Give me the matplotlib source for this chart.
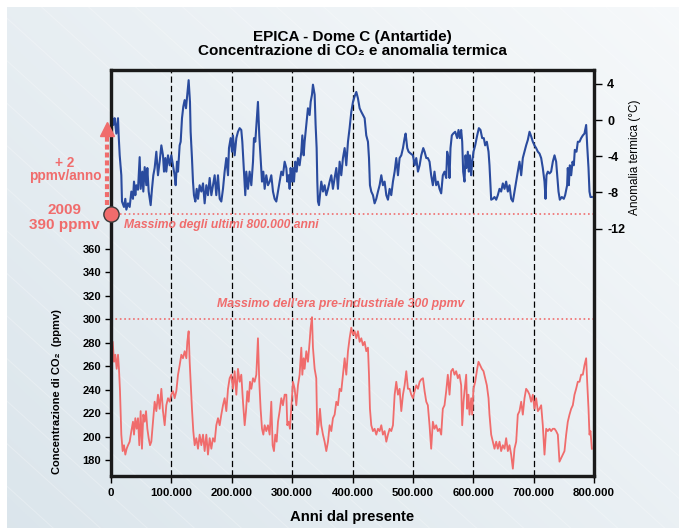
import numpy as np
import matplotlib.pyplot as plt

plt.rcParams['font.family'] = ['Liberation Sans', 'DejaVu Sans']

# dati, eta' in migliaia di anni dal presente
anni_temp = [
    1.7, 3.9, 6.1, 8.8, 11.6, 12.7, 14.4, 17.1, 18.2, 21.5,
    23.7, 25.4, 28.2, 30.9, 33.7, 36.4, 38.1, 40.3, 42.0, 44.7,
    47.5, 49.1, 51.9, 53.5, 55.8, 58.5, 60.2, 62.4, 65.7, 67.9,
    70.1, 72.3, 75.1, 77.8, 80.6, 83.4, 86.1, 87.8, 90.0, 91.6,
    94.4, 97.2, 99.9, 102.7, 105.4, 107.1, 109.3, 111.0, 113.7, 115.4,
    117.6, 119.8, 122.0, 124.2, 126.4, 128.6, 130.8, 131.9, 134.1, 135.8,
    137.4, 139.7, 141.9, 144.1, 146.8, 149.6, 152.4, 155.1, 157.9, 160.6,
    163.4, 166.2, 168.9, 171.7, 174.4, 177.2, 180.0, 182.7, 185.5, 188.2,
    191.0, 193.8, 195.4, 198.2, 200.4, 202.0, 204.8, 207.6, 210.3, 213.1,
    215.8, 217.5, 220.2, 222.4, 224.1, 226.9, 229.6, 232.4, 235.2, 236.8,
    239.0, 241.2, 243.4, 245.6, 247.8, 250.1, 252.3, 254.5, 257.2, 260.0,
    262.8, 265.5, 268.3, 271.0, 273.8, 276.6, 279.3, 282.1, 284.8, 287.6,
    290.4, 292.0, 294.2, 295.9, 297.5, 299.7, 301.4, 303.1, 305.3, 307.5,
    309.7, 312.4, 315.2, 316.9, 319.1, 320.7, 323.5, 326.2, 329.0, 330.7,
    332.9, 334.5, 337.3, 338.9, 340.6, 341.7, 342.8, 344.5, 346.1, 348.3,
    351.1, 353.8, 356.6, 359.4, 362.1, 364.9, 367.6, 370.4, 373.2, 375.9,
    378.7, 381.4, 384.2, 387.0, 389.7, 392.5, 395.2, 398.0, 400.8, 403.5,
    406.3, 409.0, 411.8, 414.6, 417.3, 420.1, 422.8, 425.6, 427.3, 428.9,
    431.1, 433.9, 436.6, 439.4, 442.2, 444.9, 447.7, 450.4, 453.2, 456.0,
    458.7, 461.5, 464.2, 467.0, 469.8, 472.5, 475.3, 478.0, 480.8, 483.6,
    486.3, 488.0, 490.7, 492.9, 496.3, 500.1, 502.9, 505.6, 508.4, 511.2,
    513.9, 517.2, 519.4, 522.2, 524.8, 527.6, 530.3, 533.1, 535.8, 538.6,
    541.4, 544.1, 546.9, 549.6, 552.4, 555.2, 556.8, 559.0, 560.7, 562.3,
    564.5, 566.8, 570.1, 573.4, 575.6, 577.8, 580.0, 581.7, 583.3, 585.5,
    587.2, 588.8, 591.0, 592.7, 594.4, 596.6, 598.2, 600.4, 603.2, 606.5,
    609.3, 612.0, 614.8, 617.5, 619.7, 622.5, 625.3, 626.9, 628.6, 629.7,
    632.4, 635.2, 638.0, 640.7, 643.5, 646.2, 649.0, 651.8, 654.5, 657.3,
    660.0, 662.8, 665.6, 668.3, 671.1, 673.8, 676.6, 679.4, 682.1, 684.9,
    687.6, 690.4, 693.2, 695.9, 698.7, 701.4, 704.2, 707.0, 709.7, 712.5,
    715.2, 718.0, 719.7, 721.3, 723.5, 726.3, 729.0, 731.8, 734.6, 737.3,
    739.0, 741.2, 743.4, 746.7, 750.0, 752.2, 755.5, 756.6, 758.3, 760.0,
    762.2, 764.4, 766.6, 768.2, 771.0, 773.2, 776.0, 778.7, 781.5, 784.2,
    787.0, 788.7, 790.9, 792.5, 794.2, 796.4,
]
temp = [
    0.4, -0.55, 0.2, -1.5, 0.2, -1.7, -3.9, -6.1, -9.0, -9.6,
    -8.7, -9.9, -9.2, -9.6, -7.9, -8.7, -6.8, -8.3, -7.2, -7.7,
    -4.1, -7.6, -5.7, -7.9, -5.2, -7.2, -5.3, -7.9, -9.4, -7.6,
    -6.1, -5.3, -3.5, -6.1, -4.6, -2.8, -3.9, -5.7, -4.2, -5.7,
    -3.9, -5.0, -3.9, -5.0, -6.1, -7.2, -4.6, -5.7, -2.8, -2.4,
    0.2, 1.5, 2.2, 1.3, 2.8, 4.4, 2.0, -1.3, -4.2, -6.8,
    -8.3, -9.0, -7.6, -8.7, -7.2, -7.9, -7.0, -9.2, -7.2, -8.3,
    -6.4, -8.3, -7.2, -6.1, -8.3, -6.1, -8.7, -9.0, -7.6, -5.7,
    -4.2, -6.1, -3.1, -2.0, -3.5, -1.7, -3.9, -2.0, -1.3, -0.9,
    -1.1, -2.4, -5.7, -8.3, -5.7, -7.6, -5.7, -7.2, -4.6, -2.0,
    -2.4, -0.2, 2.0, -1.7, -4.2, -6.8, -5.7, -7.6, -6.1, -7.2,
    -6.8, -6.1, -7.9, -8.7, -9.0, -7.9, -6.8, -5.7, -6.1, -4.6,
    -5.3, -6.8, -6.1, -7.6, -5.3, -6.8, -5.3, -6.8, -4.6, -5.7,
    -4.2, -5.0, -3.5, -1.7, -3.9, -2.4, -0.55, 1.3, 0.55, 2.0,
    2.8, 3.9, 2.8, -0.55, -3.1, -6.8, -9.0, -9.4, -8.3, -6.8,
    -7.9, -7.2, -8.3, -7.6, -6.8, -6.1, -7.6, -6.4, -5.3, -7.6,
    -4.6, -6.1, -4.2, -3.1, -5.0, -2.4, -0.9, 0.9, 2.0, 2.6,
    3.1, 2.4, 1.3, 0.9, 0.55, 0.2, -1.7, -2.4, -4.2, -7.2,
    -7.9, -8.3, -9.2, -8.7, -7.9, -7.2, -6.1, -7.2, -6.8, -8.3,
    -8.8, -7.6, -8.3, -6.8, -5.7, -4.2, -6.1, -4.2, -3.9, -3.1,
    -2.0, -1.5, -3.1, -3.5, -3.7, -3.9, -5.0, -4.2, -5.7, -5.0,
    -3.9, -3.1, -3.5, -4.2, -4.2, -4.6, -6.1, -7.2, -5.7, -7.2,
    -6.8, -7.6, -8.1, -6.1, -5.7, -6.4, -3.5, -4.2, -6.4, -3.1,
    -1.7, -1.5, -1.3, -2.0, -1.1, -2.0, -1.1, -2.4, -5.7, -6.8,
    -3.9, -5.3, -3.5, -5.7, -3.9, -6.1, -4.6, -3.5, -2.8, -1.7,
    -0.9, -1.1, -2.0, -2.0, -2.8, -2.4, -3.5, -5.0, -7.2, -8.8,
    -8.7, -8.5, -8.8, -8.3, -7.6, -7.9, -7.0, -7.6, -6.8, -7.9,
    -7.2, -8.7, -9.0, -7.9, -6.8, -5.7, -4.6, -6.1, -4.2, -3.5,
    -2.8, -2.2, -1.3, -1.8, -2.4, -2.8, -3.1, -3.5, -3.7, -4.2,
    -5.3, -6.8, -8.7, -6.1, -5.7, -5.9, -5.7, -4.6, -3.9, -4.6,
    -6.1, -7.9, -8.8, -8.5, -8.7, -8.3, -7.2, -5.3, -7.2, -5.0,
    -6.1, -4.6, -5.0, -3.3, -3.5, -2.4, -2.4, -2.0, -1.7, -1.5,
    -0.55, -2.8, -5.3, -7.9, -8.5, -8.5,
]

anni_co2 = [
    0.0, 1.0,
    2.8, 5.0, 7.2, 9.4, 11.6, 13.2, 14.9, 17.1, 19.3, 21.5,
    23.7, 25.9, 28.2, 30.9, 33.7, 36.4, 38.1, 40.3, 42.5, 44.7,
    46.9, 49.1, 51.3, 53.5, 55.8, 58.0, 60.2, 62.4, 64.6, 66.8,
    69.6, 72.3, 75.1, 77.8, 80.6, 83.4, 86.1, 88.9, 91.6, 94.4,
    97.2, 99.9, 102.7, 105.4, 108.2, 111.0, 113.7, 116.5, 119.2, 122.0,
    124.8, 126.4, 128.6, 130.3, 131.9, 134.1, 136.3, 138.6, 141.3, 144.1,
    146.8, 149.6, 152.4, 155.1, 157.9, 160.6, 163.4, 166.2, 168.9, 171.7,
    174.4, 177.2, 180.0, 182.7, 185.5, 188.2, 191.0, 193.8, 196.5, 199.3,
    202.0, 204.8, 207.6, 210.3, 213.1, 215.8, 218.6, 221.4, 223.6, 225.8,
    228.0, 230.2, 232.4, 235.2, 237.9, 240.7, 243.4, 245.6, 247.8, 250.1,
    252.3, 254.5, 257.2,
    260.0, 262.8, 265.5, 267.7, 269.9, 272.1, 274.4, 276.6, 279.3, 282.1,
    284.8, 287.6, 290.4, 292.0, 294.2, 296.4, 298.6, 301.4, 304.2, 306.9,
    309.7, 312.4, 315.2, 316.9, 319.1, 320.7, 323.5, 326.2, 329.0, 330.7,
    332.9, 334.5, 337.3, 340.0, 341.7, 343.9, 346.1, 348.3, 351.1, 353.8,
    356.6, 359.4, 362.1, 364.9, 367.6, 370.4, 373.2, 375.9, 378.7, 381.4,
    384.2, 387.0, 389.7, 392.5, 395.2, 398.0, 400.8, 403.5, 406.3, 409.0,
    411.8, 414.6, 417.3, 420.1, 422.8, 425.6, 427.3, 428.9, 431.1, 433.9,
    436.6, 439.4, 442.2, 444.9, 447.7, 450.4, 453.2, 456.0, 458.7, 461.5,
    464.2, 467.0, 469.8, 472.5, 475.3, 478.0, 480.8, 483.6, 486.3, 489.1,
    491.8, 494.6, 497.4, 500.1, 502.9, 505.6, 508.4, 511.2, 513.9, 516.7,
    519.4, 522.2,
    524.8, 527.6, 530.3, 533.1, 535.8, 538.6, 541.4, 544.1, 546.9, 549.6,
    552.4, 555.2, 557.9, 560.7, 563.4, 566.2, 569.0, 571.7, 574.5, 577.2,
    580.0, 581.7, 583.9, 585.5, 588.3, 589.9, 592.1, 593.8, 596.6, 598.2,
    600.4, 603.2, 606.5, 608.7, 611.5, 614.2, 617.0, 619.7, 622.5, 625.3,
    626.9, 629.7, 632.4, 635.2, 638.0, 640.7, 643.5, 646.2, 649.0, 651.8,
    654.5, 657.3, 660.0, 662.8, 665.6, 668.3, 671.1, 673.8, 676.6, 679.4,
    682.1, 684.9, 687.6, 690.4, 693.2, 695.9, 698.7, 701.4, 704.2, 707.0,
    709.7, 712.5, 715.2, 718.0, 720.8, 723.5, 726.3, 729.0, 731.8, 734.6,
    737.3, 740.1, 742.8, 745.6, 748.4, 751.1, 753.9, 756.6, 759.4, 762.2,
    764.9, 767.7, 770.4, 773.2, 776.0, 778.7, 781.5, 784.2, 787.0, 788.7,
    790.9, 792.5, 794.2, 796.4,
]
co2 = [
    390, 282,
    281, 264, 270, 258, 270, 258, 239, 202, 188, 193,
    185, 190, 193, 196, 205, 213, 202, 216, 207, 216,
    193, 222, 190, 219, 213, 222, 207, 199, 193, 196,
    213, 230, 222, 236, 224, 241, 222, 210, 227, 233,
    230, 236, 239, 233, 239, 253, 261, 270, 267, 273,
    267, 281, 290, 264, 247, 224, 205, 193, 199, 190,
    202, 193, 202, 188, 202, 185, 199, 190, 199, 196,
    210, 216, 210, 219, 227, 233, 222, 241, 250, 253,
    241, 256, 236, 258, 247, 253, 230, 210, 222, 239,
    230, 247, 241, 250, 247, 253, 284, 247, 224, 207,
    202, 210, 205,
    210, 202, 230, 193, 188, 202, 196, 213, 222, 233,
    227, 236, 236, 210, 213, 207, 224, 247, 241, 227,
    244, 253, 276, 253, 267, 258, 273, 264, 281, 293,
    302, 276, 258, 250, 202, 210, 224, 210, 202, 196,
    188, 196, 210, 205, 216, 219, 230, 227, 241, 239,
    253, 267, 253, 273, 284, 293, 287, 290, 284, 290,
    281, 284, 278, 281, 273, 276, 253, 224, 210, 205,
    207, 202, 207, 205, 210, 202, 205, 196, 202, 207,
    205, 210, 236, 247, 236, 241, 222, 236, 244, 256,
    241, 241, 236, 233, 239, 244, 241, 247, 249, 250,
    239, 230,
    227, 210, 190, 213, 207, 210, 205, 207, 202, 224,
    227, 239, 253, 236, 256, 258, 253, 256, 250, 253,
    244, 210, 230, 239, 253, 224, 236, 219, 233, 219,
    241, 247, 258, 264, 261, 258, 256, 250, 244, 233,
    219, 202, 196, 190, 196, 190, 196, 188, 193, 190,
    199, 188, 193, 185, 173, 190, 196, 219, 222, 230,
    219, 233, 241, 239, 236, 230, 236, 224, 233, 222,
    224, 227, 210, 185, 207, 205, 207, 205, 207, 207,
    205, 202, 179, 182, 185, 188, 202, 213, 219, 224,
    227, 236, 241, 247, 247, 253, 253, 261, 267, 247,
    224, 202, 205, 190,
]

anni_tick = [0, 100, 200, 300, 400, 500, 600, 700, 800]
anni_etichette = ['0', '100.000', '200.000', '300.000', '400.000',
                  '500.000', '600.000', '700.000', '800.000']
co2_tick = [180, 200, 220, 240, 260, 280, 300, 320, 340, 360]
temp_tick = [4, 0, -4, -8, -12]
temp_etichette = ['4', '0', '-4', '-8', '-12']

co2_2009 = 390
co2_preind = 300

rosso = '#f06c6c'
blu = '#2a4b9e'
W, H = 679, 528

fig = plt.figure(figsize=(W / 100, H / 100), dpi=100)

# sfondo sfumato
bg = fig.add_axes([7 / W, 0, 1 - 7 / W, 1 - 7 / H], zorder=-10)
gx, gy = np.meshgrid(np.linspace(0, 1, 300), np.linspace(0, 1, 300))
g = np.clip(0.55 * gx + 0.45 * gy, 0, 1)
c_bl = np.array([0.86, 0.9, 0.925])
c_tr = np.array([0.965, 0.975, 0.982])
img = c_bl + (c_tr - c_bl) * g[..., None]
bg.imshow(img, origin='lower', extent=[0, 1, 0, 1], aspect='auto')
for k in np.arange(-0.5, 1.6, 0.07):
    bg.plot([k - 0.6, k + 0.6], [1.2, -0.2], color='white', lw=0.8, alpha=0.25)
bg.set_xlim(0, 1)
bg.set_ylim(0, 1)
bg.axis('off')

ax = fig.add_axes([111 / W, 52 / H, 483 / W, 406 / H])
ax.set_facecolor('none')
ax2 = ax.twinx()

for v in anni_tick[1:-1]:
    ax.axvline(v, color='black', lw=0.9, ls=(0, (5, 2.5)), zorder=1)

ax.axhline(co2_2009, color=rosso, ls=':', lw=1.2, zorder=1.5)
ax.axhline(co2_preind, color=rosso, ls=':', lw=1.2, zorder=1.5)
ax.plot(anni_co2, co2, color=rosso, lw=1.3, zorder=2)
ax2.plot(anni_temp, temp, color=blu, lw=1.5, zorder=2)

# freccia e cerchio del 2009
ax2.plot([-6.2, -6.2], [397, 455], transform=ax.transData, color=rosso,
         lw=3, ls=(0, (1.2, 0.7)), clip_on=False, zorder=9)
ax2.plot([-6.2], [462], transform=ax.transData, marker='^', ms=10,
         color=rosso, clip_on=False, zorder=9)
ax2.plot([0], [co2_2009], transform=ax.transData, marker='o', ms=11,
         mfc=rosso, mec='#3a3a3a', mew=1, clip_on=False, zorder=10)

ax.set_xlim(0, 800)
ax.set_ylim(166.8, 512.3)
ax2.set_ylim(-39.3, 5.52)

for a in (ax, ax2):
    for s in a.spines.values():
        s.set_linewidth(2.3)
        s.set_color('#1a1a1a')

ax.set_xticks(anni_tick)
ax.set_xticklabels(anni_etichette, fontsize=8.2, fontweight='bold')
ax.set_yticks(co2_tick)
ax.set_yticklabels([str(v) for v in co2_tick], fontsize=8, fontweight='bold')
ax.tick_params(axis='x', direction='out', length=5, width=1, pad=4)
ax.tick_params(axis='y', direction='out', length=4, width=1, pad=3)
ax2.set_yticks(temp_tick)
ax2.set_yticklabels(temp_etichette, fontsize=9, fontweight='bold')
ax2.tick_params(axis='y', direction='out', length=5.5, width=1, pad=4)

ax.text(21.5, 380, 'Massimo degli ultimi 800.000 anni', color=rosso,
        fontsize=8.7, fontweight='bold', style='italic', ha='left', va='center')
ax.text(175, 313, "Massimo dell'era pre-industriale 300 ppmv", color=rosso,
        fontsize=8.8, fontweight='bold', style='italic', ha='left', va='center')

def ftext(x, y, s, **kw):
    fig.text(x / W, 1 - y / H, s, ha='center', va='center', **kw)

ftext(352.5, 37.5, 'EPICA - Dome C (Antartide)', fontsize=11, fontweight='bold')
ftext(352.5, 51, 'Concentrazione di CO₂ e anomalia termica', fontsize=11,
      fontweight='bold')
ftext(352.5, 517, 'Anni dal presente', fontsize=10.7, fontweight='bold')
ftext(57, 392, 'Concentrazione di CO₂  (ppmv)', fontsize=8,
      fontweight='bold', rotation=90)
ftext(635, 157, 'Anomalia termica (°C)', fontsize=8.5, rotation=90)
ftext(65, 163, '+ 2', fontsize=9.8, fontweight='bold', color=rosso)
ftext(65, 176, 'ppmv/anno', fontsize=9.8, fontweight='bold', color=rosso)
ftext(65, 210.5, '2009', fontsize=11, fontweight='bold', color=rosso)
ftext(64, 225.5, '390 ppmv', fontsize=11, fontweight='bold', color=rosso)

fig.savefig('out.png', dpi=100)
